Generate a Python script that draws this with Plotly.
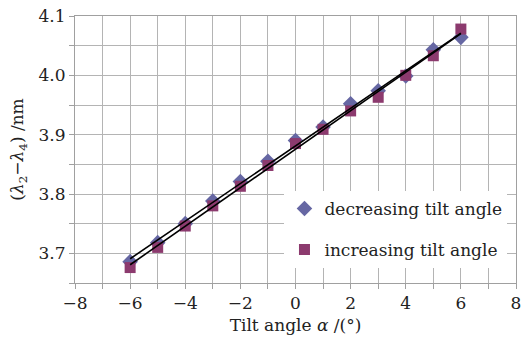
import numpy as np
import plotly.graph_objects as go

tilt_angle = [-6, -5, -4, -3, -2, -1, 0, 1, 2, 3, 4, 5, 6]
decreasing = [3.686, 3.718, 3.750, 3.788, 3.821, 3.855, 3.890, 3.913, 3.952, 3.974, 3.999, 4.043, 4.064]
increasing = [3.676, 3.710, 3.746, 3.780, 3.813, 3.848, 3.885, 3.909, 3.940, 3.963, 4.000, 4.033, 4.078]

x_ticks = [-8, -6, -4, -2, 0, 2, 4, 6, 8]
x_labels = ["−8", "−6", "−4", "−2", "0", "2", "4", "6", "8"]
y_ticks = [3.7, 3.8, 3.9, 4.0, 4.1]
y_labels = ["3.7", "3.8", "3.9", "4.0", "4.1"]

FONT = "DejaVu Serif"
DEC_COLOR = "#6667A3"
INC_COLOR = "#8C3A6E"
GRID = "#b4b4b4"

fig = go.Figure()
fig.add_trace(go.Scatter(
    x=tilt_angle, y=decreasing, mode="markers", name="decreasing tilt angle",
    legendgroup="a",
    marker=dict(symbol="diamond", size=12, color=DEC_COLOR),
))
fig.add_trace(go.Scatter(
    x=tilt_angle, y=increasing, mode="markers", name="increasing tilt angle",
    legendgroup="b",
    marker=dict(symbol="square", size=11, color=INC_COLOR),
))

xa = np.array(tilt_angle, dtype=float)
for series in (decreasing, increasing):
    k, b = np.polyfit(xa, np.array(series), 1)
    xs = [xa.min(), xa.max()]
    fig.add_trace(go.Scatter(
        x=xs, y=[k * v + b for v in xs], mode="lines", showlegend=False,
        line=dict(color="black", width=1.6), hoverinfo="skip",
    ))

fig.update_layout(
    width=527, height=339,
    margin=dict(l=75, r=6, t=15, b=56),
    paper_bgcolor="white", plot_bgcolor="white",
    font=dict(family=FONT, size=17, color="#222222"),
    showlegend=True,
    legend=dict(
        x=0.475, y=0.345, xanchor="left", yanchor="top",
        bgcolor="white", borderwidth=0,
        font=dict(family=FONT, size=17, color="#222222"),
        traceorder="grouped", tracegroupgap=16,
    ),
    xaxis=dict(
        range=[-8, 8], tickvals=x_ticks, ticktext=x_labels,
        showgrid=True, gridcolor=GRID, gridwidth=1,
        showline=True, linecolor="#a0a0a0", linewidth=1, mirror=True,
        ticks="outside", ticklen=5, tickcolor="#a0a0a0",
        minor=dict(dtick=1, showgrid=True, gridcolor=GRID, ticks="outside", ticklen=5, tickcolor="#a0a0a0"),
        zeroline=False,
        title=dict(text="Tilt angle <i>α</i> /(°)", standoff=6, font=dict(family=FONT, size=17)),
    ),
    yaxis=dict(
        range=[3.65, 4.1], tickvals=y_ticks, ticktext=y_labels,
        showgrid=True, gridcolor=GRID, gridwidth=1,
        showline=True, linecolor="#a0a0a0", linewidth=1, mirror=True,
        ticks="outside", ticklen=5, tickcolor="#a0a0a0",
        minor=dict(dtick=0.05, tick0=3.65, showgrid=True, gridcolor=GRID, ticks="outside", ticklen=5, tickcolor="#a0a0a0"),
        zeroline=False,
        title=dict(text="(<i>λ</i><sub>2</sub>−<i>λ</i><sub>4</sub>) /nm", standoff=10, font=dict(family=FONT, size=17)),
    ),
)

fig.write_html("out.html", config={"displayModeBar": False},
               post_script="document.body.style.margin='0';")
